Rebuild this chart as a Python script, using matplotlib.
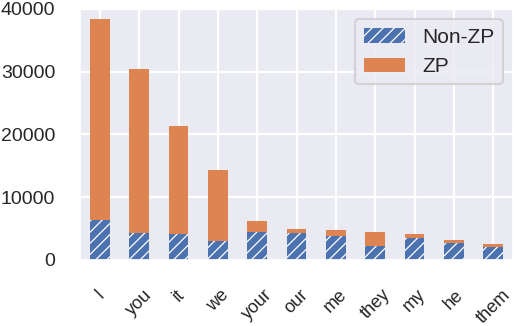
import numpy as np
import matplotlib as mpl
mpl.use('Agg')
import matplotlib.pyplot as plt
import seaborn as sns

sns.set_theme(style='darkgrid')
plt.rcParams['font.family'] = ['Liberation Sans', 'DejaVu Sans']
plt.rcParams['hatch.color'] = 'white'
plt.rcParams['hatch.linewidth'] = 0.9

pronouns = ['I', 'you', 'it', 'we', 'your', 'our', 'me', 'they', 'my', 'he', 'them']
non_zp = [6350, 4300, 4150, 3000, 4450, 4300, 3800, 2200, 3500, 2700, 2100]
totals = [38400, 30500, 21300, 14400, 6200, 4900, 4750, 4450, 4150, 3200, 2550]
zp = [t - n for t, n in zip(totals, non_zp)]

fig = plt.figure(figsize=(5.14, 3.26), dpi=100)
ax = fig.add_axes([0.156, 0.2025, 0.842, 0.77])

x = np.arange(len(pronouns))
ax.bar(x, non_zp, width=0.5, color='#4C72B0', hatch='///', linewidth=0,
       edgecolor='white', label='Non-ZP')
ax.bar(x, zp, width=0.5, bottom=non_zp, color='#DD8452', linewidth=0,
       label='ZP')

ax.set_xlim(-0.5, len(pronouns) - 0.5)
ax.set_ylim(0, 40000)
ax.set_yticks([0, 10000, 20000, 30000, 40000])
ax.set_xticks(x)
ax.set_xticklabels(pronouns, rotation=45, ha='center')
ax.tick_params(axis='y', labelsize=14, pad=12)
ax.tick_params(axis='x', labelsize=13, pad=13)
ax.grid(True, color='white', linewidth=1.6)
ax.set_axisbelow(True)

leg = ax.legend(loc='upper right', fontsize=15, frameon=True)
leg.get_frame().set_edgecolor('#cccccc')
leg.get_frame().set_linewidth(1.5)

plt.savefig('out.png', dpi=100)
